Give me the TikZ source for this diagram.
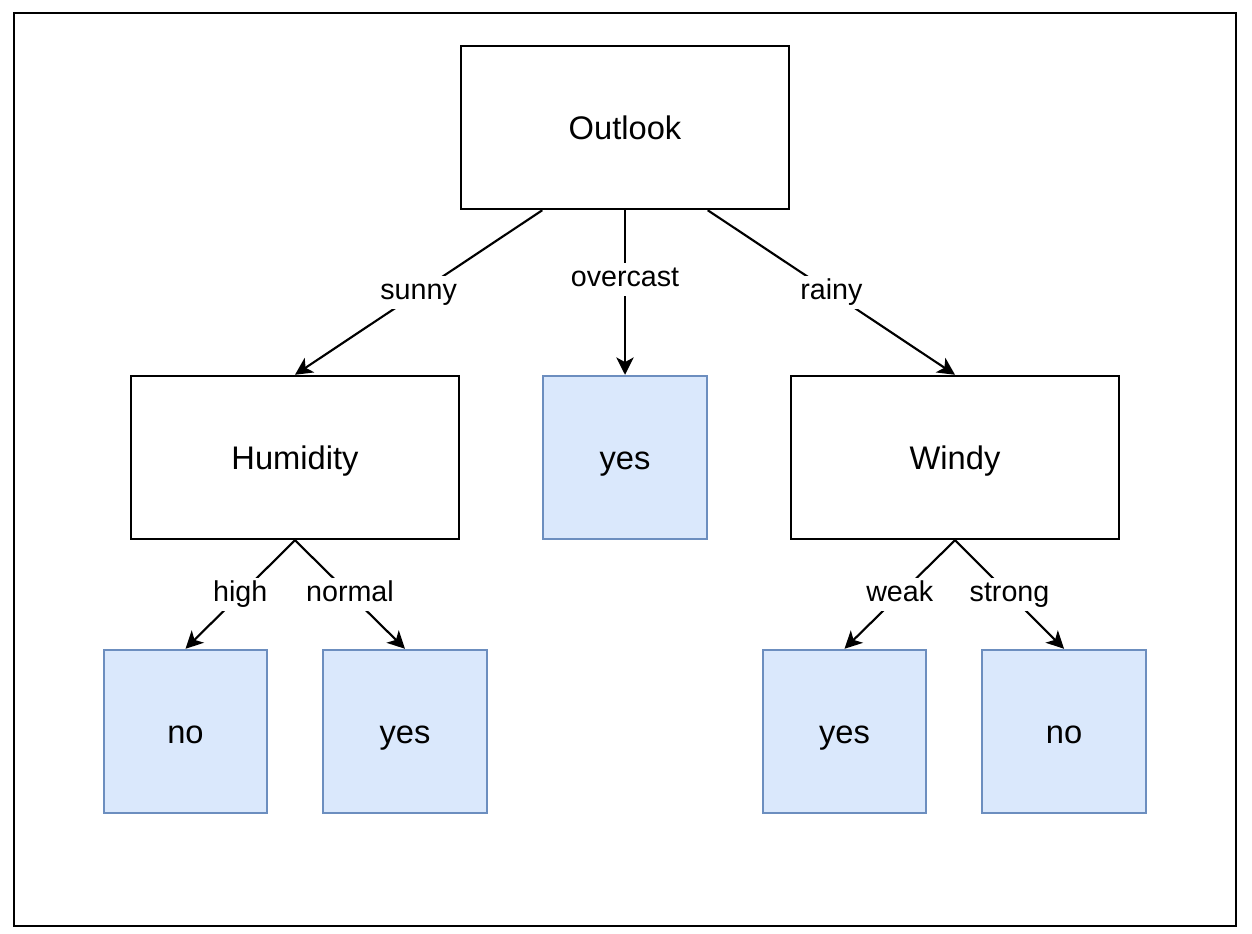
\documentclass[tikz,border=0pt]{standalone}
\usepackage{fontspec}
\setmainfont{Liberation Sans}
\usepackage{tikz}
\usetikzlibrary{arrows.meta}
\definecolor{leaffill}{HTML}{DAE8FC}
\definecolor{leafdraw}{HTML}{6C8EBF}

\begin{document}
\begin{tikzpicture}[x=0.75pt,y=-0.75pt,
  test/.style={draw,line width=1.6pt,minimum width=246pt,minimum height=122.5pt,text height=17.5pt,text depth=0pt,font=\fontsize{24.5}{29}\selectfont},
  leaf/.style={draw=leafdraw,fill=leaffill,line width=1.6pt,minimum width=122.5pt,minimum height=122.5pt,text height=17.5pt,text depth=0pt,font=\fontsize{24.5}{29}\selectfont},
  edge/.style={line width=1.6pt,-{Stealth[length=13pt,width=13pt,inset=3.5pt]}},
  branch/.style={fill=white,inner sep=2pt,text height=16pt,text depth=4.8pt,font=\fontsize{21.5}{26}\selectfont}]
\useasboundingbox (0,0) rectangle (1252,934);
\draw[line width=1.2pt] (14,13) rectangle (1236,926);

\node[test] (outlook) at (625,127.5) {Outlook};
\node[test] (humidity) at (295,457.5) {Humidity};
\node[leaf] (yes1) at (625,457.5) {yes};
\node[test] (windy) at (955,457.5) {Windy};

\node[leaf] (no1) at (185.5,731.5) {no};
\node[leaf] (yes2) at (405,731.5) {yes};
\node[leaf] (yes3) at (844.5,731.5) {yes};
\node[leaf] (no2) at (1064,731.5) {no};

\draw[edge] (outlook.-135) -- node[branch] {sunny} (humidity.north);
\draw[edge] (outlook.south) -- node[branch,pos=0.42] {overcast} (yes1.north);
\draw[edge] (outlook.-45) -- node[branch] {rainy} (windy.north);

\draw[edge] (humidity.south) -- node[branch] {high} (no1.north);
\draw[edge] (humidity.south) -- node[branch] {normal} (yes2.north);
\draw[edge] (windy.south) -- node[branch] {weak} (yes3.north);
\draw[edge] (windy.south) -- node[branch] {strong} (no2.north);
\end{tikzpicture}
\end{document}
